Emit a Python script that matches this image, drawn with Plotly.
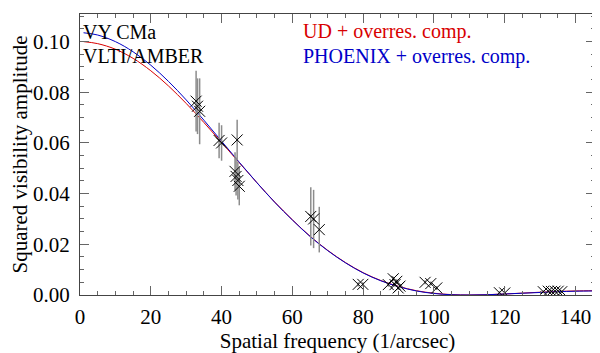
import plotly.graph_objects as go

# Measured squared visibilities
freq = [32.8, 33.2, 33.8, 39.3, 40.0, 44.4, 43.8, 44.1, 44.6, 45.0,
        65.2, 66.0, 67.6, 78.6, 79.9, 87.1, 88.5, 89.0, 89.5, 89.9, 90.4,
        97.5, 99.1, 100.8, 118.5, 120.0, 130.9, 132.3, 133.2, 134.2, 135.1, 136.1]
vis2 = [0.0765, 0.0745, 0.0725, 0.0610, 0.0600, 0.0612, 0.0488, 0.0468, 0.0452, 0.0429,
        0.0310, 0.0300, 0.0258, 0.0042, 0.0042, 0.0041, 0.0064, 0.0041, 0.0054, 0.0028, 0.0035,
        0.0050, 0.0045, 0.0028, 0.0009, 0.0008, 0.0013, 0.0015, 0.0014, 0.0015, 0.0015, 0.0013]
vis2_err = [0.012, 0.011, 0.013, 0.007, 0.007, 0.008, 0.0075, 0.0075, 0.0075, 0.0075,
            0.0115, 0.0115, 0.009, 0.0008, 0.0008, 0.0008, 0.0008, 0.0008, 0.0008, 0.0008, 0.0008,
            0.0008, 0.0008, 0.0008, 0.0006, 0.0006, 0.0006, 0.0006, 0.0006, 0.0006, 0.0006, 0.0006]

# Model curves
model_freq = [1, 5, 10, 15, 20, 25, 30, 35, 40, 45, 50, 55, 60, 65, 70, 75, 80, 85,
              90, 95, 100, 105, 110, 115, 120, 125, 130, 135, 140, 145.5]
ud_vis2 = [0.1000, 0.0992, 0.0970, 0.0934, 0.0885, 0.0825, 0.0756, 0.0681, 0.0602, 0.0522,
           0.0443, 0.0367, 0.0297, 0.0232, 0.0176, 0.0128, 0.0088, 0.0057, 0.0034, 0.0017,
           0.0007, 0.00015, 0.0, 0.00012, 0.0004, 0.00075, 0.0011, 0.0014, 0.0016, 0.0017]
phoenix_vis2 = [0.1035, 0.1026, 0.1000, 0.0960, 0.0907, 0.0843, 0.0770, 0.0690, 0.0607, 0.0524,
                0.0443, 0.0366, 0.0296, 0.0231, 0.0175, 0.0127, 0.0087, 0.0056, 0.0033, 0.0016,
                0.0006, 0.0001, 0.0, 0.0001, 0.0004, 0.0007, 0.0010, 0.0013, 0.0015, 0.0016]

x_ticks = [0, 20, 40, 60, 80, 100, 120, 140]
y_ticks = [0.00, 0.02, 0.04, 0.06, 0.08, 0.10]

RED = "#d80000"
BLUE = "#0000c8"
FONT = "Liberation Serif"

fig = go.Figure()
fig.add_trace(go.Scatter(x=model_freq, y=ud_vis2, mode="lines", line=dict(color=RED, width=1, shape="spline"),
                         showlegend=False, hoverinfo="skip"))
fig.add_trace(go.Scatter(x=model_freq, y=phoenix_vis2, mode="lines", line=dict(color=BLUE, width=1, shape="spline"),
                         showlegend=False, hoverinfo="skip"))
fig.add_trace(go.Scatter(
    x=freq, y=vis2, mode="markers",
    marker=dict(symbol="x-thin-open", size=11, color="black", line=dict(color="black", width=1)),
    error_y=dict(type="data", array=vis2_err, visible=True, color="#8c8c8c", thickness=1.5, width=0),
    showlegend=False))

axis_common = dict(showline=True, linecolor="#444", linewidth=1, mirror="allticks",
                   ticks="inside", tickcolor="#666", ticklen=9, tickwidth=1,
                   showgrid=False, zeroline=False, automargin=False,
                   tickfont=dict(family=FONT, size=21, color="black"))

fig.update_xaxes(range=[0, 145.5], tickvals=x_ticks, ticktext=[str(v) for v in x_ticks],
                 minor=dict(dtick=5, ticks="inside", ticklen=4, tickcolor="#666"),
                 title=dict(text="Spatial frequency (1/arcsec)", font=dict(family=FONT, size=21, color="black"), standoff=0),
                 ticklabelstandoff=3, **axis_common)
fig.update_yaxes(range=[0, 0.1109], tickvals=y_ticks, ticktext=["%.2f" % v for v in y_ticks],
                 minor=dict(dtick=0.005, ticks="inside", ticklen=4, tickcolor="#666"),
                 title=dict(text="Squared visibility amplitude", font=dict(family=FONT, size=21, color="black"), standoff=11),
                 ticklabelstandoff=5, **axis_common)

ann = dict(xref="paper", yref="paper", xanchor="left", yanchor="middle", showarrow=False)
fig.add_annotation(x=0.002, y=0.936, text="VY CMa", font=dict(family=FONT, size=20, color="black"), **ann)
fig.add_annotation(x=0.002, y=0.849, text="VLTI/AMBER", font=dict(family=FONT, size=20, color="black"), **ann)
fig.add_annotation(x=0.430, y=0.936, text="UD + overres. comp.", font=dict(family=FONT, size=20, color=RED), **ann)
fig.add_annotation(x=0.430, y=0.849, text="PHOENIX + overres. comp.", font=dict(family=FONT, size=20, color=BLUE), **ann)

# page body has an 8px margin, so the figure is offset by (8, 8)
fig.update_layout(width=592, height=345, margin=dict(l=72, r=5, t=6, b=57.5),
                  plot_bgcolor="white", paper_bgcolor="white",
                  font=dict(family=FONT, color="black"))

fig.write_html("out.html")
